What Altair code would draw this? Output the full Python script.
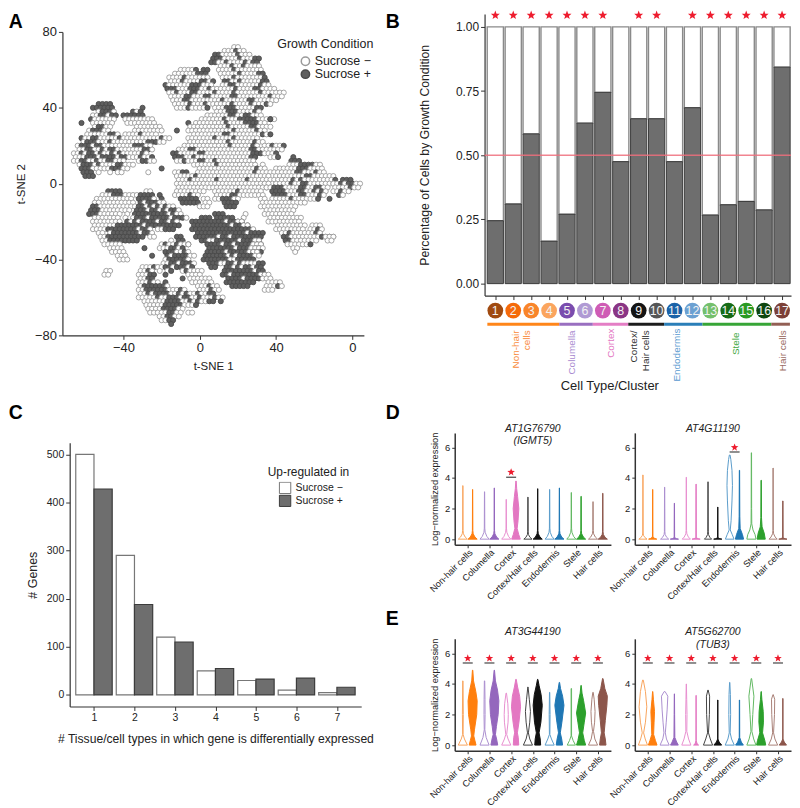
import json
import altair as alt
import pandas as pd

FONT = "Liberation Sans"
TXT = "#222222"
COND = ["Sucrose \u2212", "Sucrose +"]
DARK = "#6e6e6e"
STAR = "M0,-1L0.25,-0.34L0.95,-0.31L0.4,0.13L0.59,0.81L0,0.42L-0.59,0.81L-0.4,0.13L-0.95,-0.31L-0.25,-0.34Z"

# ---------- Panel A: t-SNE map, read row by row ("Y|X:cells"; each cell = 2 t-SNE units)
TSNE_ROWS = [
"72|18:oo",
"70|12:ooo#oo",
"68|8:##oooo#ooo",
"66|6:###oooo#ooo##",
"64|6:##oo#oooo#o##",
"62|10:ooo#oo#oooo",
"60|-10:oooo#.## 10:oooo#ooooooo",
"58|-14:oooooo###. 10:ooooo#oooo##",
"56|-16:oooo#oooooo 12:ooo#ooooooo#",
"54|-16:ooo#oooo##o# 12:##oo#ooooo##",
"52|-18:#oooooo###ooo 12:oo##oooooo#oo",
"50|-18:###ooo###oo#oo 10:oooo#oooo##oooo",
"48|-16:oo#ooo##oooo#oooo#oooooo#oooooo",
"46|-16:oooo##ooo##ooooo##oooooooo#ooo",
"44|-14:ooo##oooooooo#oooooo##oooooo",
"42|-54:#### -14:oooo#ooo#oooo 8:oooo#oooo#ooo#o",
"40|-56:###### -12:ooo#oooo# 8:ooo###ooooo## -30:#",
"38|-54:o###o -36:#o#. 8:ooo###oooo#o",
"36|-56:oo##o## -40:###### 4:oooooo##oo##ooo",
"34|-64:. -58:#oooooo -40:oooooooo 0:oooooo#ooo#####ooo#o 36:#",
"32|-62:# -56:oooooo -38:oooooooo -6:#.oooooooo#oooo####oo",
"30|-56:o##oo -34:ooooooo -6:oooooooooo#ooooo##oooo",
"28|-58:o###oo -34:oooooooo -12:#..oooooooooooo#ooooo#oo",
"26|-60:oooooo##o.oooo#oooo -4:oooooooo##oooooooo#o#",
"24|-62:#oo##ooooo#oooooooooo#oo -6:ooooooo#oooo#oooooo",
"22|-62:o###ooo#ooooooooo###oo -6:oooooooooo#oooooo#oo",
"20|-64:o###o##oooooooo###oo -8:oooooooooooo#ooooo#o 34:oo#oo#",
"18|-64:oo##oo#o##ooooooo##o -12:ooo##oooooooooooooo##oo 34:ooooo",
"16|-66:oo#o##o#oo#o#ooooo#o -14:##ooooo##oooooooooooo### 34:ooo#",
"14|-66:ooo###o####o##ooo#oo -26:# -14:###oo#oooooooooooooo##. 36:oo#. 48:#",
"12|-66:oo##oo#oo##ooo -32:o##oo -12:oo#ooo##oo#oooooooooo 48:###",
"10|-64:o###o#oooo##ooo -24:. -4:oooooo#oooooooooo 32:o 46:ooo####oo",
"8|-62:###ooooo###oo -20:# 0:ooooooooooooooo#oo 40:oooooo###oooo",
"6|-62:###.o..o.oo -28:o -14:oo##. -2:ooooooooooooooo#oooo 38:oooooo##ooo#oo",
"4|-60:### -12:ooooo#. 0:oooooooooooooooooooo 36:o 40:oooooooo##oooooo",
"2|-12:ooo#oooo 0:oooo#ooooooo#oooooooooo 42:ooo#o#oooooooo# 74:###",
"0|-12:oooooooo 2:oooooooooooooooooooo 34:oo 40:oooo#oo##ooooooo#oo 70:oo#o##oo",
"-2|-12:oooooooo 4:ooooooooooooooooo 34:oo 38:###oooo##oo##oo 70:oooo#oo",
"-4|-48:#### -12:oooooooo 8:oooooo#oooooo -28:oo 38:####ooo##oo#o#o 70:oo#oo",
"-6|-52:ooo###oooo -14:oooo#oo. 8:oooo##ooooooo -32:####. -22:# 38:####ooo##ooo#o 72:#o",
"-8|-54:oooooooooo -32:####o -20:# -10:#####.o 4:o.oo###o 20:o 32:oo 38:ooooo#oooooo# 68:#",
"-10|-56:oo.oooooooo -32:#o###oo -10:#####.oo 10:.#### 32:oo 36:oooooooooo",
"-12|-56:##ooooooooo -34:o##o#o#o#oo 0:ooo 14:### 32:oooooooooo",
"-14|-58:###oooooooo -34:###o##o#o##o 34:oooooooo",
"-16|-58:###oooooo.o -34:#########o#oo 8:### 24:o 34:oooooooo",
"-18|-56:ooooooo.o.o -34:###o#####o###o 0:### 8:##### 22:o 36:ooooooooo",
"-20|-56:oooooooo.oo -38:#o#o####o##o#o -4:#########o#### 20:oo 36:ooooooooo",
"-22|-56:oooooo#######o######### -4:##########o#### 22:oo 40:oooooooo 58:ooo",
"-24|-56:oooo########o##o.oo### -4:################o 40:oooooooo 58:oo#o",
"-26|-54:oo.o#######o##o -2:#############o#### 42:oo#oooooo#o",
"-28|-52:oo##########.oo -12:## -2:######o##o######## 44:##oooooooo#o#o 66:ooo",
"-30|-52:oo########. -16:o.## 0:##oo######o##### 28:oo 44:##ooooooo 66:oo",
"-32|-50:ooooo -20:o#oo#oo# -6:o. 4:####o##o####### 28:ooo 46:oooooo#",
"-34|-48:oooo -30:# -22:ooo##o# 4:#######o###o## 26:oooo 48:oo",
"-36|-46:oooo -18:###oo#o 4:#####o#####o### 28:oo 50:o",
"-38|-44:ooo -26:# -18:#o####oo 2:######o#o#### 28:oo",
"-40|-42:ooo -18:o#####o 2:#######oo#####",
"-42|-20:oo##o###o 4:###oo##o#oooo##",
"-44|-30:ooo#o -22:oo##o###o# 6:## 14:##o#o##o##",
"-46|-50:oo -32:oo#o -22:o.o#. -10:o#oooo 12:########o##",
"-48|-50:oo -32:ooo## -18:# -6:oooo 12:##o#######o# 34:oo",
"-50|-32:oo## -10:# -6:oooooo 14:####o####o 34:oo",
"-52|-32:ooo#oo -18:# -4:oooooo 14:######## 36:oooo",
"-54|-32:o######o -2:ooo#oo 16:##### 34:ooo#o",
"-56|-32:oo######ooo#o. 0:ooo#oo 34:ooo",
"-58|-32:oo#o####oo#o#oo#oo##",
"-60|-32:ooooo#oo###o##oo#ooo#oo",
"-62|-30:oooooo####oo#o#oo## 10:#",
"-64|-28:ooooo#####ooo#",
"-66|-28:oooo####oo",
"-68|-26:ooooo##oo -6:oo",
"-70|-22:oo##oo",
"-72|-20:oo##",
"-74|-16:#",
]

a_x, a_y, a_c = [], [], []
for row in TSNE_ROWS:
    head, body = row.split("|")
    yy = int(head)
    for tok in body.split():
        start, cells = tok.split(":")
        xx = int(start) + (1 if yy % 4 == 2 else 0)
        for ch in cells:
            if ch in "o#":
                a_x.append(xx)
                a_y.append(yy)
                a_c.append(COND[0] if ch == "o" else COND[1])
            xx += 2
df_a = pd.DataFrame({"x": a_x, "y": a_y, "c": a_c})


def letter(ch, dx, dy):
    return alt.Chart(pd.DataFrame({"t": [ch]})).mark_text(
        align="left", baseline="alphabetic", font=FONT, fontWeight="bold", fontSize=19.5, color="#000"
    ).encode(x=alt.value(dx), y=alt.value(dy), text="t:N")


AX = dict(grid=False, domainColor="#333333", tickColor="#333333", labelColor=TXT, titleColor=TXT,
          labelFont=FONT, titleFont=FONT, titleFontWeight="normal", tickSize=4, domainWidth=1.2, tickWidth=1)

cond_scale_fill = alt.Scale(domain=COND, range=["#ffffff", "#5f5f5f"])
cond_scale_stroke = alt.Scale(domain=COND, range=["#9a9a9a", "#4a4a4a"])
leg_a = alt.Legend(title="Growth Condition", orient="none", legendX=208.7, legendY=6, symbolOffset=22,
                   titleFont=FONT, labelFont=FONT, titleFontSize=12.5, labelFontSize=12.5, titleFontWeight="normal",
                   titleColor=TXT, labelColor=TXT, symbolSize=70, symbolType="circle", rowPadding=0, titlePadding=5,
                   clipHeight=12, labelOffset=3)
panel_a = alt.layer(
    alt.Chart(df_a).mark_circle(size=26, opacity=1, strokeWidth=0.9).encode(
        x=alt.X("x:Q", scale=alt.Scale(domain=[-72, 86], range=[-7.3, 295.7], nice=False, zero=False),
                axis=alt.Axis(values=[-40, 0, 40, 80], labelExpr="datum.value==80?'0':datum.label", title="t-SNE 1",
                              labelFontSize=13, titleFontSize=11.5, titlePadding=6, **AX)),
        y=alt.Y("y:Q", scale=alt.Scale(domain=[-80, 80], nice=False, zero=False),
                axis=alt.Axis(values=[-80, -40, 0, 40, 80], title="t-SNE 2", offset=7.3,
                              labelFontSize=13, titleFontSize=11.5, titlePadding=8, **AX)),
        fill=alt.Fill("c:N", scale=cond_scale_fill, legend=leg_a),
        stroke=alt.Stroke("c:N", scale=cond_scale_stroke, legend=leg_a),
    ),
    letter("A", -61.3, -3.6),
).properties(width=296, height=305)

# ---------- Panel B
CLUSTERS = list(range(1, 18))
FRAC_PLUS = [.245, .31, .583, .165, .27, .625, .745, .475, .642, .642, .475, .685, .267, .307, .32, .287, .843]
STARRED = [1, 2, 3, 4, 5, 6, 7, 9, 10, 12, 13, 14, 15, 16, 17]
CL_COLORS = ["#a04a10", "#f56a0a", "#f9852a", "#fba55e", "#7a4cae", "#b09ad4", "#cf5cb5", "#8a3585", "#141414",
             "#555555", "#1a62a8", "#6ba0d2", "#74c06c", "#166b16", "#2a9a22", "#0e4710", "#7c4038"]
BAND_START = [.555, 4.57, 6.44, 8.42, 10.42, 12.56, 16.4]
BAND_END = [4.57, 6.44, 8.42, 10.42, 12.56, 16.4, 17.44]
BAND_COL = ["#ff7f0e", "#9467bd", "#e377c2", "#111111", "#1f77b4", "#2ca02c", "#8c564b"]
GROUP_T = ["Non-hair", "cells", "Columella", "Cortex", "Cortex/", "Hair cells", "Endodermis", "Stele", "Hair cells"]
GROUP_X = [2.15, 2.76, 5.26, 7.43, 8.76, 9.41, 11.15, 14.43, 17.03]
GROUP_COL = ["#f98c3c", "#f98c3c", "#a98bd0", "#e377c2", "#333333", "#333333", "#5a9ad0", "#40a840", "#9a6b62"]
GROUP_TOP = [-.182, -.182, -.182, -.175, -.182, -.182, -.175, -.19, -.182]

bxs = alt.Scale(domain=[.4, 17.5], range=[30, 338], nice=False, zero=False, padding=0)
bys = alt.Scale(domain=[-.0465, 1.05], range=[265, -18], nice=False, zero=False)
byax = alt.Axis(values=[0, .25, .5, .75, 1], format=".2f", title="Percentage of Cells by Growth Condition", offset=-30,
                labelFontSize=12, titleFontSize=12.3, titlePadding=24, **AX)
bx = alt.X("x:Q", scale=bxs, axis=alt.Axis(values=CLUSTERS, labels=False, title=None, **AX))
by = alt.Y("y:Q", scale=bys, axis=byax)
df_b = pd.DataFrame({"x": CLUSTERS, "y": FRAC_PLUS})
df_b["one"] = 1.0
df_b["zero"] = 0.0
panel_b = alt.layer(
    alt.Chart(df_b).mark_bar(size=16.3, fill="#ffffff", stroke="#8a8a8a", strokeWidth=1.4).encode(
        x=bx, y=by, y2="one:Q"),
    alt.Chart(df_b).mark_bar(size=16.3, fill=DARK, stroke="#3c3c3c", strokeWidth=1).encode(
        x=bx, y=alt.Y("zero:Q", scale=bys, axis=byax), y2="y:Q"),
    alt.Chart(pd.DataFrame({"y": [.5]})).mark_rule(color="#ef6f7c", strokeWidth=1.5, opacity=.85).encode(
        y=by, x=alt.value(30), x2=alt.value(338)),
    alt.Chart(pd.DataFrame({"x": STARRED, "y": [1.045] * len(STARRED)})).mark_point(
        shape=STAR, filled=True, size=90, color="#ee1c2e", opacity=1).encode(x=bx, y=by),
    alt.Chart(pd.DataFrame({"x": CLUSTERS, "y": [-.105] * 17, "col": CL_COLORS})).mark_circle(size=250, opacity=1).encode(
        x=bx, y=by, color=alt.Color("col:N", scale=None)),
    alt.Chart(pd.DataFrame({"x": CLUSTERS, "y": [-.105] * 17, "t": [str(c) for c in CLUSTERS]})).mark_text(
        font=FONT, fontSize=12.5, color="#f2f2f2").encode(x=bx, y=by, text="t:N"),
    alt.Chart(pd.DataFrame({"x": BAND_START, "x2": BAND_END, "y": [-.158] * 7, "col": BAND_COL})).mark_rule(
        strokeWidth=3, opacity=.95).encode(x=bx, x2="x2:Q", y=by, color=alt.Color("col:N", scale=None)),
    alt.Chart(pd.DataFrame({"x": GROUP_X, "y": GROUP_TOP, "t": GROUP_T, "col": GROUP_COL})).mark_text(
        font=FONT, fontSize=10, angle=270, align="right", baseline="middle").encode(
        x=bx, y=by, text="t:N", color=alt.Color("col:N", scale=None)),
    alt.Chart(pd.DataFrame({"x": [7.39], "y": [-.399], "t": ["Cell Type/Cluster"]})).mark_text(
        font=FONT, fontSize=13, color=TXT).encode(x=bx, y=by, text="t:N"),
    letter("B", -69.3, -3.6),
).properties(width=338, height=265)

# ---------- Panel C
C_X = [1, 2, 3, 4, 5, 6, 7]
C_MINUS = [500, 290, 120, 50, 30, 10, 5]
C_PLUS = [428, 188, 110, 55, 33, 35, 16]
df_c = pd.DataFrame({
    "x0": [v - .45 for v in C_X] + C_X,
    "x1": C_X + [v + .45 for v in C_X],
    "n": C_MINUS + C_PLUS,
    "c": [COND[0]] * 7 + [COND[1]] * 7,
})
leg_c = alt.Legend(title="Up-regulated in", orient="none", legendX=199, legendY=24, symbolOffset=11,
                   titleFont=FONT, labelFont=FONT, titleFontSize=12, labelFontSize=10.5, titleFontWeight="normal",
                   titleColor=TXT, labelColor=TXT, symbolSize=130, symbolType="square", rowPadding=0, titlePadding=3,
                   symbolStrokeWidth=1, clipHeight=12.5)
panel_c = alt.layer(
    alt.Chart(df_c).mark_rect(strokeWidth=1.2).encode(
        x=alt.X("x0:Q", scale=alt.Scale(domain=[.4, 7.6], nice=False, zero=False),
                axis=alt.Axis(values=C_X, title="# Tissue/cell types in which gene is differentially expressed",
                              labelFontSize=10.5, titleFontSize=12.2, titlePadding=10, **AX)),
        x2="x1:Q",
        y=alt.Y("n:Q", scale=alt.Scale(domain=[-24, 524], nice=False, zero=False),
                axis=alt.Axis(values=[0, 100, 200, 300, 400, 500], title="# Genes",
                              labelFontSize=10.5, titleFontSize=12.5, titlePadding=7, **AX)),
        y2=alt.Y2(datum=0),
        fill=alt.Fill("c:N", scale=alt.Scale(domain=COND, range=["#ffffff", DARK]), legend=leg_c),
        stroke=alt.Stroke("c:N", scale=alt.Scale(domain=COND, range=["#777777", "#3c3c3c"]), legend=leg_c),
    ),
    letter("C", -61.3, -23.7),
).properties(width=293, height=265)

# ---------- Panels D, E: violins. Each profile is a list of (expression, relative half width)
CELLS = ["Non-hair cells", "Columella", "Cortex", "Cortex/Hair cells", "Endodermis", "Stele", "Hair cells"]
VCOL = ["#ff7f0e", "#9467bd", "#e377c2", "#111111", "#1f77b4", "#2ca02c", "#8c564b"]
VLIGHT = ["#f8a45e", "#ab8fd0", "#e88fd0", "#444444", "#5b9ccb", "#63b863", "#a98178"]


def spike(top, b=1.0, h=.35):
    return [(0, b), (h * .4, b * .5), (h, b * .13), (h * 1.6, .05), (top, .02)]


D1_M = [spike(3.5), spike(3.1, 1, .45), spike(2.6, 1, .45), spike(2.75, .9, .3), spike(3.25, 1, .45), spike(3.05, 1, .45), spike(2.45, 1, .35)]
D1_P = [spike(3.25, 1, .35), spike(3.35, 1, .35),
        [(0, .95), (.3, .6), (.7, .25), (1.2, .45), (2, .62), (2.8, .35), (3.3, .15), (3.8, .04)],
        spike(3.3, 1, .35), spike(3.35, 1, .35), spike(2.8, 1, .35), spike(3, 1, .3)]
D2_M = [spike(4.2, .9, .25), spike(3.4, .9, .3), spike(4.05, .9, .35), spike(3.75, .8, .3),
        [(0, .95), (.3, .55), (.6, .12), (1.2, .3), (2.5, .5), (3.5, .6), (4.5, .5), (5.2, .25), (5.5, .08)],
        [(0, 1), (.3, .8), (.6, .35), (1, .08), (2, .05), (5.65, .03)], spike(4.65, .9, .35)]
D2_P = [spike(3.25, .9, .12), spike(2.35, .9, .08), spike(3.6, .9, .08), spike(2.1, .9, .08),
        [(0, .9), (.3, .65), (.7, .15), (1.5, .07), (4.5, .03)],
        [(0, .9), (.4, .65), (.8, .2), (1.4, .07), (3.85, .03)], spike(2.5, .9, .08)]
E1_M = [[(0, 1), (.4, .35), (.7, .05), (2, .1), (4.2, .03)],
        [(0, 1), (.5, .35), (1, .06), (2, .12), (3, .1), (4.2, .04)],
        [(0, 1), (.4, .4), (.7, .1), (1.5, .4), (2, .45), (2.7, .35), (3.4, .05)],
        [(0, 1), (.4, .4), (.8, .1), (1.5, .4), (2.2, .55), (3, .3), (3.8, .03)],
        [(0, 1), (.4, .4), (.7, .05), (2, .1), (3.45, .03)],
        [(0, .9), (.3, .4), (.6, .05), (3.7, .05)],
        [(0, 1), (.4, .4), (.9, .1), (1.5, .35), (2.2, .45), (3, .25), (3.45, .04)]]
E1_P = [[(0, .75), (.3, .5), (.6, .25), (1, .4), (2, .9), (2.9, 1), (3.5, .7), (4.2, .2), (4.9, .04)],
        [(0, .75), (.4, .5), (.7, .25), (1.2, .45), (2, .85), (2.9, 1), (3.6, .7), (4.2, .25), (4.9, .04)],
        [(0, .6), (.5, .5), (.8, .3), (1.5, .65), (2.5, 1), (3.2, .8), (3.8, .35), (4.3, .05)],
        [(0, .65), (.4, .55), (.8, .3), (1.5, .7), (2.6, 1), (3.3, .75), (3.9, .3), (4.3, .04)],
        [(0, .7), (.4, .5), (.8, .2), (1.5, .55), (2.6, 1), (3.2, .7), (3.7, .25), (4.1, .04)],
        [(0, 1), (.3, .7), (.8, .35), (1.5, .7), (2.1, 1), (2.9, .55), (3.4, .2), (3.9, .04)],
        [(0, .7), (.4, .55), (.8, .3), (1.6, .55), (2.6, .9), (3.2, 1), (3.7, .45), (4.35, .05)]]
E2_M = [[(0, 1), (.4, .5), (.8, .15), (1.5, .55), (2.5, .85), (3.5, .55), (4.25, .08)],
        [(0, 1), (.4, .4), (.8, .15), (1.5, .35), (2.3, .55), (3.2, .7), (3.5, .1)],
        [(0, 1), (.4, .5), (.9, .1), (2, .15), (3, .08), (4, .02)],
        [(0, 1), (.4, .5), (.8, .1), (2, .3), (3.2, .35), (3.6, .03)],
        [(0, 1), (.4, .4), (.8, .1), (2, .2), (3.3, .15), (4.1, .03)],
        [(0, 1), (.4, .5), (.9, .1), (2, .3), (3.2, .55), (4.35, .05)],
        [(0, 1), (.4, .4), (.8, .1), (2, .3), (3, .35), (3.3, .03)]]
E2_P = [[(0, .95), (.3, .6), (.7, .2), (1.5, .3), (2.2, .4), (3, .15), (3.5, .03)],
        [(0, .85), (.2, .5), (.5, .1), (2, .05), (3.35, .02)],
        [(0, .55), (.1, .2), (.3, .03), (3.25, .02)],
        [(0, .85), (.2, .3), (.4, .03), (2.95, .03)],
        [(0, .85), (.2, .4), (.5, .05), (2.95, .03)],
        [(0, 1), (.3, .8), (.8, .3), (1.5, .5), (2.2, .45), (3, .15), (3.5, .03)],
        [(0, .8), (.2, .3), (.4, .03), (3.05, .02)]]
E_MARK = [(c, 5.37, 5.68) for c in range(1, 8)]
LABEL_EXPR = "%s[datum.value-1]" % json.dumps(CELLS)
AXV = {**AX, "tickSize": 3}
AXV["domainWidth"] = 1.5


def violin_panel(minus, plus, marks, titles, show_title, let=None):
    rows = []
    for i in range(7):
        for side, prof, fc, sc, off in (("m", minus[i], "#ffffff", VLIGHT[i], -.225), ("p", plus[i], VCOL[i], VCOL[i], .225)):
            for yv, w in prof:
                rows.append({"v": f"{side}{i}", "y": yv, "a": i + 1 + off - w * .21, "b": i + 1 + off + w * .21,
                             "fc": fc, "sc": sc})
    vx = alt.X("a:Q", scale=alt.Scale(domain=[.4, 7.6], nice=False, zero=False),
               axis=alt.Axis(values=list(range(1, 8)), labelExpr=LABEL_EXPR, labelAngle=-45, labelAlign="right",
                             labelBaseline="top", labelOverlap=False, labelPadding=0, title=None, labelFontSize=9.2, **AXV))
    vy = alt.Y("y:Q", scale=alt.Scale(domain=[-.37, 6.95], nice=False, zero=False),
               axis=alt.Axis(values=[0, 2, 4, 6], title="Log\u2212normalized expression" if show_title else None,
                             labelFontSize=9.5, titleFontSize=9.3, titlePadding=5, **AXV))
    layers = [
        alt.Chart(pd.DataFrame(rows)).mark_area(orient="horizontal", strokeWidth=1).encode(
            x=vx, x2="b:Q", y=vy, detail="v:N",
            fill=alt.Fill("fc:N", scale=None), stroke=alt.Stroke("sc:N", scale=None)),
    ]
    mk_x = [m[0] for m in marks]
    layers.append(alt.Chart(pd.DataFrame({"a": [c - .23 for c in mk_x], "b": [c + .23 for c in mk_x],
                                          "y": [m[1] for m in marks]})).mark_rule(color="#333333", strokeWidth=1.1).encode(
        x=vx, x2="b:Q", y=vy))
    layers.append(alt.Chart(pd.DataFrame({"a": mk_x, "y": [m[2] for m in marks]})).mark_point(
        shape=STAR, filled=True, size=64, color="#ee1c2e", opacity=1).encode(x=vx, y=vy))
    layers.append(alt.Chart(pd.DataFrame(titles)).mark_text(
        font=FONT, fontSize=10.5, fontStyle="italic", color=TXT).encode(x=vx, y=vy, text="t:N"))
    if let:
        layers.append(let)
    return alt.layer(*layers).properties(width=157, height=112.5)


d1 = violin_panel(D1_M, D1_P, [(3, 4.05, 4.38)],
                  [{"a": 4, "y": 7.2, "t": "AT1G76790"}, {"a": 4, "y": 6.4, "t": "(IGMT5)"}], True, letter("D", -69.3, -14))
d2 = violin_panel(D2_M, D2_P, [(5, 5.7, 6.0)], [{"a": 4, "y": 7.2, "t": "AT4G11190"}], False)
e1 = violin_panel(E1_M, E1_P, E_MARK, [{"a": 4, "y": 7.39, "t": "AT3G44190"}], True, letter("E", -69.3, -14))
e2 = violin_panel(E2_M, E2_P, E_MARK, [{"a": 4, "y": 7.39, "t": "AT5G62700"}, {"a": 4, "y": 6.57, "t": "(TUB3)"}], False)

ROW_ALIGN = {"row": "all", "column": "none"}
row_d = alt.concat(d1, d2, columns=2, spacing=-3).properties(align=ROW_ALIGN)
row_e = alt.concat(e1, e2, columns=2, spacing=-3).properties(align=ROW_ALIGN)
left = alt.concat(panel_a, panel_c, columns=1, spacing=31).properties(align="none").resolve_scale(fill="independent", stroke="independent")
lower = alt.concat(row_d, row_e, columns=1, spacing=7).properties(align="none")
right = alt.concat(panel_b, lower, columns=1, spacing=10).properties(align="none")
chart = alt.hconcat(left, right, spacing=11).properties(padding=0).resolve_scale(fill="independent", stroke="independent").configure_view(stroke=None)
chart.save("out.html", embed_options={"renderer": "svg", "actions": False})
